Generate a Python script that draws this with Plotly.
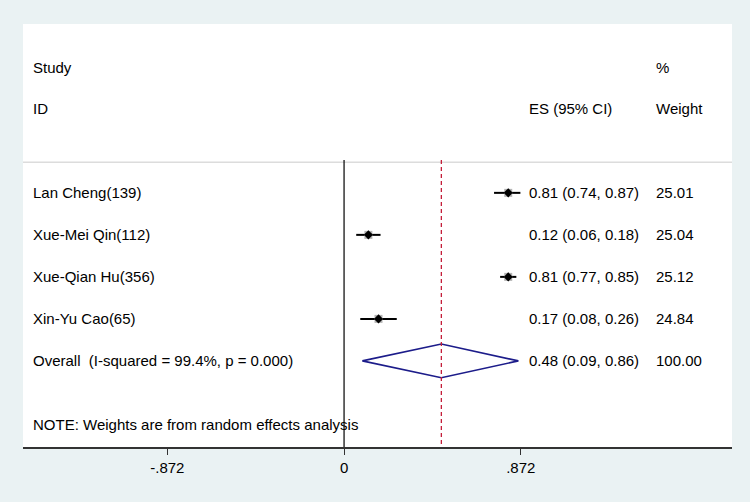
import plotly.graph_objects as go

# study-level estimates (ES with 95% CI) and random-effects weights
studies = ["Lan Cheng(139)", "Xue-Mei Qin(112)", "Xue-Qian Hu(356)", "Xin-Yu Cao(65)"]
es = [0.81, 0.12, 0.81, 0.17]
ci_lo = [0.74, 0.06, 0.77, 0.08]
ci_hi = [0.87, 0.18, 0.85, 0.26]
weights = [25.01, 25.04, 25.12, 24.84]

overall_label = "Overall  (I-squared = 99.4%, p = 0.000)"
overall_es = 0.48
overall_lo = 0.09
overall_hi = 0.86
overall_weight = 100.00

tick_vals = [-0.872, 0, 0.872]
tick_text = ["-.872", "0", ".872"]

FONT = "Liberation Sans, Arial, sans-serif"
TXT = 15
x_range = [-1.584, 1.914]
# row layout (y axis reversed, one unit per row)
row0 = 4
rows = [row0 + i for i in range(len(studies))]
row_overall = row0 + len(studies)
row_note = row_overall + 1.52
line_top = 3.22
y_range = [10.05, -0.02]

fig = go.Figure()

# confidence interval lines
for lo, hi, r in zip(ci_lo, ci_hi, rows):
    fig.add_trace(go.Scatter(x=[lo, hi], y=[r, r], mode="lines",
                             line=dict(color="black", width=2), hoverinfo="skip"))

# weight boxes and point estimates
fig.add_trace(go.Scatter(x=es, y=rows, mode="markers",
                         marker=dict(symbol="square", size=8, color="#b4b4b4"),
                         hoverinfo="skip"))
fig.add_trace(go.Scatter(x=es, y=rows, mode="markers",
                         marker=dict(symbol="diamond", size=7, color="black"),
                         hoverinfo="skip"))

# overall diamond
h = 0.4
fig.add_trace(go.Scatter(
    x=[overall_lo, overall_es, overall_hi, overall_es, overall_lo],
    y=[row_overall, row_overall - h, row_overall, row_overall + h, row_overall],
    mode="lines", line=dict(color="#1c1c8a", width=1.6), hoverinfo="skip"))

shapes = [
    dict(type="line", xref="paper", yref="y", x0=0, x1=1, y0=3.27, y1=3.27,
         line=dict(color="#dcdcdc", width=1.5)),
    dict(type="line", xref="x", yref="y", x0=0, x1=0, y0=line_top, y1=y_range[0],
         line=dict(color="black", width=1.2)),
    dict(type="line", xref="x", yref="y", x0=overall_es, x1=overall_es,
         y0=line_top, y1=y_range[0],
         line=dict(color="#c41e3a", width=1.3, dash="4px,3px")),
]

x_study = -1.545
x_es = 0.905
x_w = 1.53


def txt(x, y, s):
    return dict(x=x, y=y, xref="x", yref="y", text=s, showarrow=False,
                xanchor="left", yanchor="middle",
                font=dict(family=FONT, size=TXT, color="black"))


ann = [
    txt(x_study, 1.02, "Study"),
    txt(x_study, 2.0, "ID"),
    txt(x_es, 2.0, "ES (95% CI)"),
    txt(x_w, 1.02, "%"),
    txt(x_w, 2.0, "Weight"),
]
for s, e, lo, hi, w, r in zip(studies, es, ci_lo, ci_hi, weights, rows):
    ann.append(txt(x_study, r, s))
    ann.append(txt(x_es, r, f"{e:.2f} ({lo:.2f}, {hi:.2f})"))
    ann.append(txt(x_w, r, f"{w:.2f}"))
ann.append(txt(x_study, row_overall, overall_label))
ann.append(txt(x_es, row_overall, f"{overall_es:.2f} ({overall_lo:.2f}, {overall_hi:.2f})"))
ann.append(txt(x_w, row_overall, f"{overall_weight:.2f}"))
ann.append(txt(x_study, row_note, "NOTE: Weights are from random effects analysis"))

fig.update_layout(
    width=750, height=502,
    margin=dict(l=23, r=18, t=24, b=55),
    paper_bgcolor="#eaf2f3",
    plot_bgcolor="white",
    showlegend=False,
    shapes=shapes,
    annotations=ann,
    font=dict(family=FONT, size=TXT, color="black"),
)
fig.update_xaxes(range=x_range, tickvals=tick_vals, ticktext=tick_text,
                 showgrid=False, zeroline=False, showline=True,
                 linecolor="#333333", linewidth=1.5,
                 ticks="outside", ticklen=6, tickcolor="#333333", tickwidth=1.2,
                 tickfont=dict(family=FONT, size=TXT, color="black"))
fig.update_yaxes(range=y_range, visible=False, showgrid=False, zeroline=False)

# page body has a default margin; drop it so the figure fills the window
fig.write_html("out.html", config={"displayModeBar": False},
               post_script="document.body.style.margin='0';")
